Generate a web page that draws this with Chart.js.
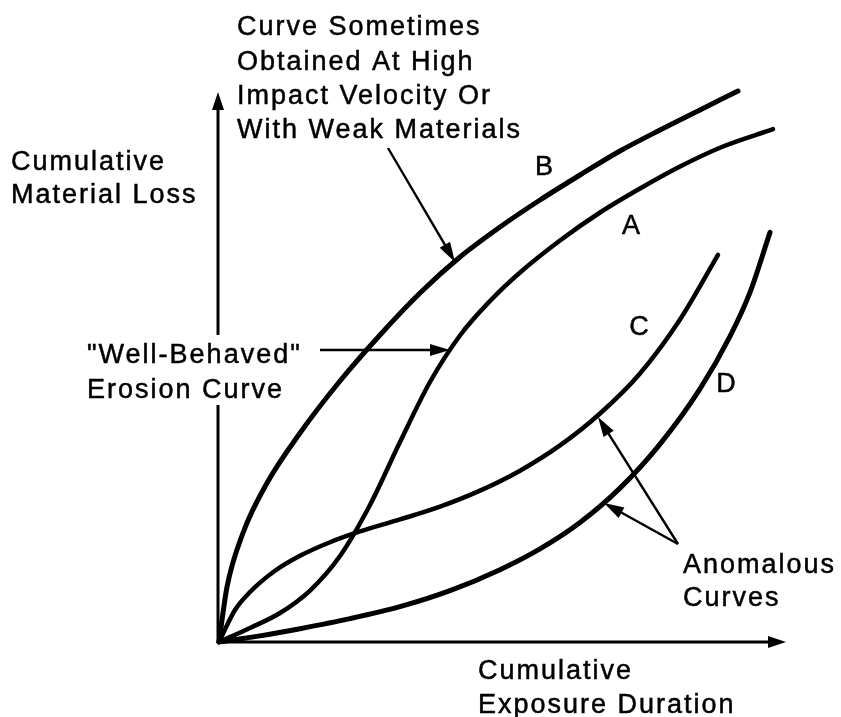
<!DOCTYPE html>
<html>
<head>
<meta charset="utf-8">
<script src="https://cdn.jsdelivr.net/npm/chart.js@4"></script>
<style>
  html, body { margin: 0; padding: 0; background: #fff; }
  canvas { display: block; }
</style>
</head>
<body>
<canvas id="c" width="841" height="717"></canvas>
<script>
// ---- data (arbitrary units: exposure duration 0-100, material loss 0-100) ----
const curveB_x = [0, 1.41, 4.23, 8.47, 14.29, 21.34, 28.40, 35.45, 42.50, 49.56, 56.61, 63.67, 70.72, 77.78, 84.83, 91.53];
const curveB_y = [0, 10.0, 19.82, 28.91, 38.0, 47.45, 55.82, 63.45, 70.0, 75.45, 80.36, 84.91, 89.27, 93.09, 96.73, 100.18];

const curveA_x = [0, 5.47, 10.76, 16.05, 21.34, 26.63, 31.92, 37.21, 42.50, 47.80, 53.09, 60.14, 67.20, 74.25, 81.31, 88.36, 97.71];
const curveA_y = [0, 2.55, 5.27, 9.36, 15.64, 24.91, 36.36, 47.27, 55.73, 62.0, 67.18, 73.0, 78.09, 82.45, 86.45, 89.87, 93.24];

const curveC_x = [0, 2.82, 5.47, 9.88, 14.29, 19.58, 24.87, 31.92, 38.98, 46.03, 53.09, 60.14, 67.20, 74.25, 81.31, 88.01];
const curveC_y = [0, 5.82, 9.09, 12.95, 15.68, 18.14, 20.1, 22.28, 24.61, 27.52, 31.15, 35.74, 41.55, 48.83, 58.64, 70.38];

const curveD_x = [0, 7.23, 14.29, 23.10, 31.92, 40.74, 49.56, 56.61, 63.67, 70.72, 77.78, 84.83, 90.12, 93.65, 97.18];
const curveD_y = [0, 1.11, 2.42, 4.24, 6.42, 9.33, 13.15, 16.93, 21.73, 27.98, 35.98, 46.02, 55.56, 63.56, 74.47];

const curveNames = ['A', 'B', 'C', 'D'];

// ---- annotation texts (canvas px) ----
const notes = [
  { t: 'Curve Sometimes', x: 237, y: 35 },
  { t: 'Obtained At High', x: 237, y: 70 },
  { t: 'Impact Velocity Or', x: 237, y: 104 },
  { t: 'With Weak Materials', x: 237, y: 138 },
  { t: 'Cumulative', x: 11, y: 170 },
  { t: 'Material Loss', x: 11, y: 203 },
  { t: '"Well-Behaved"', x: 87, y: 363 },
  { t: 'Erosion Curve', x: 87, y: 398 },
  { t: 'Anomalous', x: 683, y: 573 },
  { t: 'Curves', x: 683, y: 606 },
  { t: 'Cumulative', x: 478, y: 679 },
  { t: 'Exposure Duration', x: 478, y: 713 }
];
const curveLabelPos = { A: [632, 227], B: [545, 168], C: [640, 328], D: [727, 385] };
const pointers = [
  { from: [388, 148], to: [455, 262] },
  { from: [320, 350], to: [450, 350] },
  { from: [678, 544], to: [598, 417] },
  { from: [678, 544], to: [604, 503] }
];

function pts(xs, ys) { return xs.map((x, i) => ({ x: x, y: ys[i] })); }

function arrowHead(ctx, x0, y0, x1, y1, len, half) {
  const a = Math.atan2(y1 - y0, x1 - x0);
  ctx.beginPath();
  ctx.moveTo(x1, y1);
  ctx.lineTo(x1 - len * Math.cos(a) + half * Math.sin(a), y1 - len * Math.sin(a) - half * Math.cos(a));
  ctx.lineTo(x1 - len * Math.cos(a) - half * Math.sin(a), y1 - len * Math.sin(a) + half * Math.cos(a));
  ctx.closePath();
  ctx.fill();
}

const decor = {
  id: 'decor',
  beforeDatasetsDraw(chart) {
    const ctx = chart.ctx;
    const xs = chart.scales.x, ys = chart.scales.y;
    const ox = xs.getPixelForValue(0) - 1, oy = ys.getPixelForValue(0);
    const xEnd = xs.getPixelForValue(100), yEnd = ys.getPixelForValue(100);
    ctx.save();
    ctx.strokeStyle = '#000'; ctx.fillStyle = '#000'; ctx.lineWidth = 3;
    ctx.beginPath();
    ctx.moveTo(ox, oy + 1); ctx.lineTo(ox, yEnd + 12);
    ctx.moveTo(ox - 1, oy); ctx.lineTo(xEnd - 12, oy);
    ctx.stroke();
    arrowHead(ctx, ox, oy, ox, yEnd, 18, 6);
    arrowHead(ctx, ox, oy, xEnd, oy, 18, 6);
    // white box behind the "Well-Behaved" label interrupts the y-axis
    ctx.fillStyle = '#fff';
    ctx.fillRect(85, 335, 225, 70);
    ctx.restore();
  },
  afterDatasetsDraw(chart) {
    const ctx = chart.ctx;
    ctx.save();
    ctx.fillStyle = '#000'; ctx.strokeStyle = '#000';
    ctx.font = '27px "Liberation Sans", Arial, sans-serif';
    try { ctx.letterSpacing = '2px'; } catch (e) {}
    ctx.lineWidth = 0.5;
    ctx.textAlign = 'left'; ctx.textBaseline = 'alphabetic';
    notes.forEach(n => { ctx.fillText(n.t, n.x, n.y); ctx.strokeText(n.t, n.x, n.y); });
    ctx.textAlign = 'center'; ctx.textBaseline = 'middle';
    curveNames.forEach(k => {
      ctx.fillText(k, curveLabelPos[k][0], curveLabelPos[k][1]);
      ctx.strokeText(k, curveLabelPos[k][0], curveLabelPos[k][1]);
    });
    ctx.lineWidth = 2.4; ctx.lineCap = 'butt';
    pointers.forEach(p => {
      const [x0, y0] = p.from, [x1, y1] = p.to;
      const a = Math.atan2(y1 - y0, x1 - x0);
      ctx.beginPath();
      ctx.moveTo(x0, y0);
      ctx.lineTo(x1 - 12 * Math.cos(a), y1 - 12 * Math.sin(a));
      ctx.stroke();
      arrowHead(ctx, x0, y0, x1, y1, 20, 6);
    });
    ctx.restore();
  }
};

const common = { borderColor: '#000', pointRadius: 0, fill: false, cubicInterpolationMode: 'monotone', borderCapStyle: 'round', borderJoinStyle: 'round', clip: false };

new Chart(document.getElementById('c'), {
  type: 'line',
  data: {
    datasets: [
      Object.assign({ label: 'A', data: pts(curveA_x, curveA_y), borderWidth: 4.5 }, common),
      Object.assign({ label: 'B', data: pts(curveB_x, curveB_y), borderWidth: 5 }, common),
      Object.assign({ label: 'C', data: pts(curveC_x, curveC_y), borderWidth: 4.5 }, common),
      Object.assign({ label: 'D', data: pts(curveD_x, curveD_y), borderWidth: 5 }, common)
    ]
  },
  options: {
    responsive: false,
    animation: false,
    devicePixelRatio: 1,
    layout: { padding: { left: 219, right: 55, top: 81, bottom: 75 } },
    scales: {
      x: { type: 'linear', min: 0, max: 100, display: false },
      y: { type: 'linear', min: 0, max: 102, display: false }
    },
    plugins: { legend: { display: false }, tooltip: { enabled: false } }
  },
  plugins: [decor]
});
</script>
</body>
</html>
